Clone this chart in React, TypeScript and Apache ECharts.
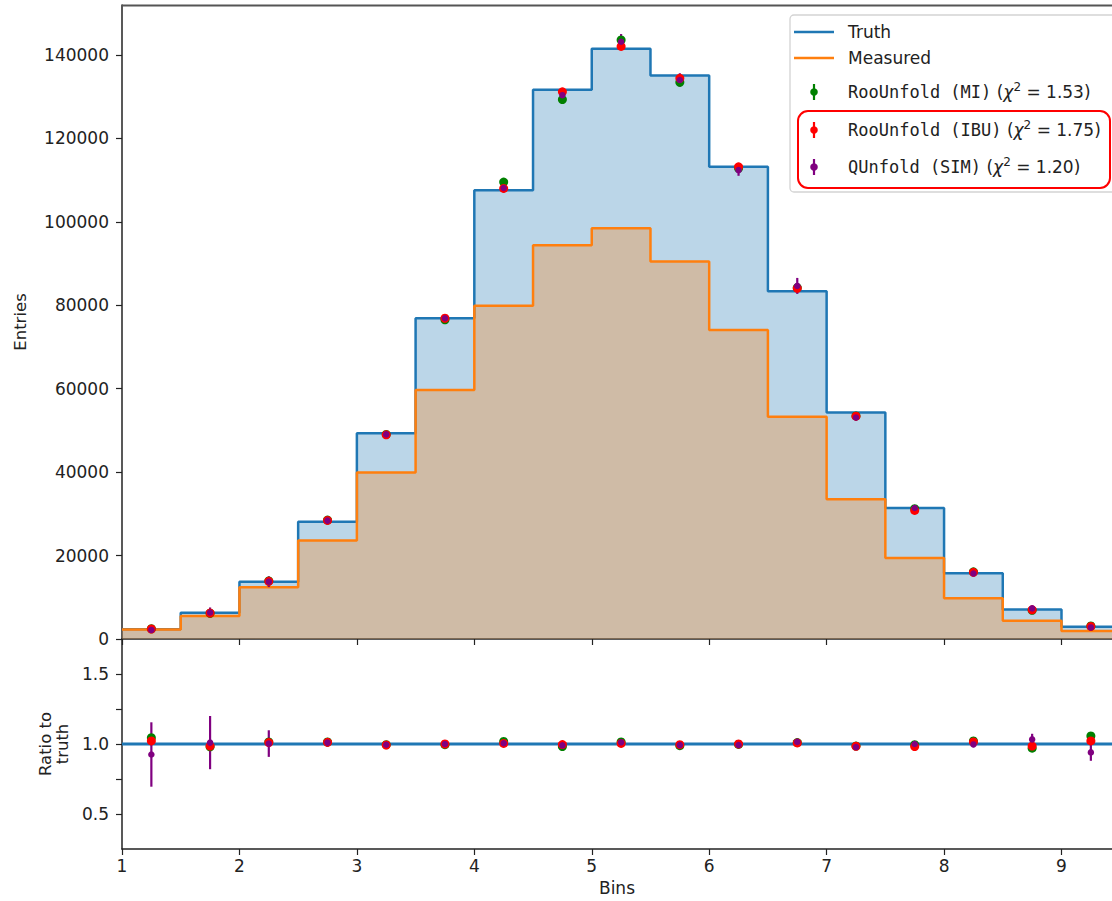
import React, { useEffect, useRef } from "react";
import * as echarts from "echarts";

// ---------- data ----------
const binEdges = [1, 1.5, 2, 2.5, 3, 3.5, 4, 4.5, 5, 5.5, 6, 6.5, 7, 7.5, 8, 8.5, 9, 9.5];
const binCenters = [1.25, 1.75, 2.25, 2.75, 3.25, 3.75, 4.25, 4.75, 5.25, 5.75, 6.25, 6.75, 7.25, 7.75, 8.25, 8.75, 9.25];

const truthCounts = [2350, 6300, 13700, 28100, 49300, 76900, 107600, 131700, 141500, 135100, 113200, 83400, 54300, 31400, 15750, 7100, 2950];
const measuredCounts = [2250, 5500, 12400, 23600, 39900, 59700, 79900, 94400, 98500, 90500, 74100, 53300, 33500, 19400, 9750, 4400, 1900];

// ratio to truth of each unfolding, and its error (ratio units)
const ratioMI = [1.045, 0.98, 1.015, 1.015, 0.995, 0.995, 1.018, 0.982, 1.015, 0.988, 0.997, 1.01, 0.985, 0.995, 1.022, 0.97, 1.058];
const errMI = [0.02, 0.015, 0.01, 0.008, 0.006, 0.005, 0.005, 0.005, 0.005, 0.005, 0.005, 0.005, 0.006, 0.008, 0.01, 0.015, 0.02];
const ratioIBU = [1.022, 0.985, 1.01, 1.012, 0.993, 1.0, 1.004, 0.996, 1.004, 0.995, 1.0, 1.008, 0.984, 0.982, 1.015, 0.985, 1.022];
const errIBU = [0.02, 0.015, 0.01, 0.008, 0.006, 0.005, 0.005, 0.005, 0.005, 0.005, 0.005, 0.005, 0.006, 0.008, 0.01, 0.015, 0.02];
const ratioSIM = [0.925, 1.01, 1.003, 1.01, 0.995, 1.0, 1.005, 0.99, 1.012, 0.992, 0.993, 1.015, 0.978, 1.0, 0.997, 1.033, 0.94];
const errSIM = [0.23, 0.19, 0.095, 0.03, 0.015, 0.012, 0.01, 0.01, 0.013, 0.012, 0.012, 0.023, 0.015, 0.015, 0.02, 0.04, 0.06];

const entriesTicks = [0, 20000, 40000, 60000, 80000, 100000, 120000, 140000];
const ratioLabelTicks = [0.5, 1.0, 1.5];
const ratioTickValues = [0.5, 0.75, 1.0, 1.25, 1.5];
const binTicks = [1, 2, 3, 4, 5, 6, 7, 8, 9];

const chiMI = "1.53";
const chiIBU = "1.75";
const chiSIM = "1.20";

// ---------- styling ----------
const C_TRUTH = "#1f77b4";
const C_MEAS = "#ff7f0e";
const C_MI = "#008000";
const C_IBU = "#ff0000";
const C_SIM = "#800080";
const FONT = "DejaVu Sans";
const MONO = "DejaVu Sans Mono";
const TXT = "#222";

function stepData(counts: number[]) {
  return binEdges.map((e, i) => [e, counts[Math.min(i, counts.length - 1)]]);
}

function errBarSeries(
  name: string,
  grid: number,
  values: number[],
  errs: number[],
  color: string
) {
  return {
    type: "custom",
    name,
    xAxisIndex: grid,
    yAxisIndex: grid,
    clip: true,
    encode: { x: 0, y: [1, 2] },
    data: binCenters.map((c, i) => [c, values[i] - errs[i], values[i] + errs[i]]),
    renderItem: (params: any, api: any) => {
      const p1 = api.coord([api.value(0), api.value(1)]);
      const p2 = api.coord([api.value(0), api.value(2)]);
      return {
        type: "line",
        shape: { x1: p1[0], y1: p1[1], x2: p2[0], y2: p2[1] },
        style: { stroke: color, lineWidth: 2.2 },
      };
    },
    z: 3,
  };
}

function pointSeries(name: string, grid: number, values: number[], color: string, size: number, z: number) {
  return {
    type: "scatter",
    name,
    xAxisIndex: grid,
    yAxisIndex: grid,
    symbol: "circle",
    symbolSize: size,
    itemStyle: { color, opacity: 1 },
    data: binCenters.map((c, i) => [c, values[i]]),
    z,
  };
}

function buildOption() {
  const topMI = truthCounts.map((t, i) => t * ratioMI[i]);
  const topIBU = truthCounts.map((t, i) => t * ratioIBU[i]);
  const topSIM = truthCounts.map((t, i) => t * ratioSIM[i]);
  const topErrMI = truthCounts.map((t, i) => t * errMI[i]);
  const topErrIBU = truthCounts.map((t, i) => t * errIBU[i]);
  const topErrSIM = truthCounts.map((t, i) => t * errSIM[i]);
  const ratioTruth = truthCounts.map((t) => t / t);

  const axisLine = { show: true, lineStyle: { color: "#222", width: 1.5 } };
  const tickStyle = { color: "#222", width: 1.2 };
  const labelStyle = { fontSize: 17, fontFamily: FONT, color: TXT };

  const legendRows = [
    { y: 32, kind: "line", color: C_TRUTH, text: "Truth" },
    { y: 58, kind: "line", color: C_MEAS, text: "Measured" },
    { y: 92, kind: "pt", color: C_MI, method: "RooUnfold (MI)", chi: chiMI },
    { y: 130, kind: "pt", color: C_IBU, method: "RooUnfold (IBU)", chi: chiIBU },
    { y: 167, kind: "pt", color: C_SIM, method: "QUnfold (SIM)", chi: chiSIM },
  ];

  const graphic: any[] = [
    {
      type: "line",
      shape: { x1: 122, y1: 5.5, x2: 1112, y2: 5.5 },
      style: { stroke: "#555", lineWidth: 2 },
      z: 50,
    },
    {
      type: "rect",
      shape: { x: 790, y: 15, width: 330, height: 177, r: 4 },
      style: { fill: "rgba(255,255,255,0.85)", stroke: "#d3d3d3", lineWidth: 1.3 },
      z: 100,
    },
  ];
  legendRows.forEach((r: any) => {
    if (r.kind === "line") {
      graphic.push({
        type: "line",
        shape: { x1: 794, y1: r.y, x2: 834, y2: r.y },
        style: { stroke: r.color, lineWidth: 2.5 },
        z: 101,
      });
      graphic.push({
        type: "text",
        x: 848,
        y: r.y,
        style: { text: r.text, fontSize: 17, fontFamily: FONT, fill: TXT, verticalAlign: "middle" },
        z: 101,
      });
    } else {
      graphic.push({
        type: "line",
        shape: { x1: 814, y1: r.y - 8, x2: 814, y2: r.y + 8 },
        style: { stroke: r.color, lineWidth: 2.2 },
        z: 101,
      });
      graphic.push({
        type: "circle",
        shape: { cx: 814, cy: r.y, r: 3.8 },
        style: { fill: r.color },
        z: 101,
      });
      graphic.push({
        type: "text",
        x: 848,
        y: r.y,
        style: {
          text: `{m|${r.method}} {n|(}{i|χ}{s|2}{n| = ${r.chi})}`,
          fontSize: 17,
          fontFamily: FONT,
          fill: TXT,
          verticalAlign: "middle",
          rich: {
            m: { fontFamily: MONO, fontSize: 17, fill: TXT, lineHeight: 22, verticalAlign: "middle" },
            n: { fontFamily: FONT, fontSize: 17, fill: TXT, lineHeight: 22, verticalAlign: "middle" },
            i: { fontFamily: FONT, fontSize: 17, fontStyle: "italic", fill: TXT, lineHeight: 22, verticalAlign: "middle" },
            s: { fontFamily: FONT, fontSize: 12, fill: TXT, lineHeight: 22, verticalAlign: "top" },
          },
        },
        z: 101,
      });
    }
  });
  graphic.push({
    type: "rect",
    shape: { x: 798, y: 111, width: 312, height: 77, r: 10 },
    style: { fill: "none", stroke: "#ff0000", lineWidth: 2 },
    z: 102,
  });

  return {
    animation: false,
    backgroundColor: "#ffffff",
    textStyle: { fontFamily: FONT },
    grid: [
      { left: 122, top: 5, right: 0, height: 634 },
      { left: 122, top: 639, right: 0, height: 210 },
    ],
    xAxis: [
      {
        gridIndex: 0,
        type: "value",
        min: 1,
        max: 9.43,
        axisLine,
        axisTick: { show: true, length: 6, inside: false, customValues: binTicks, lineStyle: tickStyle },
        axisLabel: { show: false },
        splitLine: { show: false },
      },
      {
        gridIndex: 1,
        type: "value",
        min: 1,
        max: 9.43,
        axisLine,
        axisTick: { show: true, length: 6, inside: false, customValues: binTicks, lineStyle: tickStyle },
        axisLabel: { ...labelStyle, customValues: binTicks, margin: 8, formatter: (v: number) => String(v) },
        splitLine: { show: false },
        name: "Bins",
        nameLocation: "middle",
        nameGap: 30,
        nameTextStyle: { ...labelStyle },
      },
    ],
    yAxis: [
      {
        gridIndex: 0,
        type: "value",
        min: 0,
        max: 152000,
        axisLine,
        axisTick: { show: true, length: 6, inside: false, customValues: entriesTicks, lineStyle: tickStyle },
        axisLabel: {
          ...labelStyle,
          customValues: entriesTicks,
          margin: 13,
          formatter: (v: number) => String(Math.round(v)),
        },
        splitLine: { show: false },
        name: "Entries",
        nameLocation: "middle",
        nameGap: 93,
        nameTextStyle: { ...labelStyle, fontSize: 16.5 },
      },
      {
        gridIndex: 1,
        type: "value",
        min: 0.25,
        max: 1.75,
        axisLine,
        axisTick: { show: true, length: 6, inside: false, customValues: ratioTickValues, lineStyle: tickStyle },
        axisLabel: {
          ...labelStyle,
          customValues: ratioLabelTicks,
          margin: 13,
          formatter: (v: number) => v.toFixed(1),
        },
        splitLine: { show: false },
        name: "Ratio to\ntruth",
        nameLocation: "middle",
        nameGap: 40,
        nameTextStyle: { ...labelStyle, fontSize: 16.5, lineHeight: 17 },
      },
    ],
    series: [
      {
        type: "line",
        name: "Truth",
        xAxisIndex: 0,
        yAxisIndex: 0,
        step: "end",
        symbol: "none",
        data: stepData(truthCounts),
        lineStyle: { color: C_TRUTH, width: 2.5 },
        itemStyle: { color: C_TRUTH },
        areaStyle: { color: "rgba(31,119,180,0.3)", opacity: 1 },
        z: 1,
      },
      {
        type: "line",
        name: "Measured",
        xAxisIndex: 0,
        yAxisIndex: 0,
        step: "end",
        symbol: "none",
        data: stepData(measuredCounts),
        lineStyle: { color: C_MEAS, width: 2.5 },
        itemStyle: { color: C_MEAS },
        areaStyle: { color: "rgba(255,127,14,0.3)", opacity: 1 },
        z: 2,
      },
      errBarSeries("MI err", 0, topMI, topErrMI, C_MI),
      errBarSeries("IBU err", 0, topIBU, topErrIBU, C_IBU),
      errBarSeries("SIM err", 0, topSIM, topErrSIM, C_SIM),
      pointSeries("RooUnfold (MI)", 0, topMI, C_MI, 9, 4),
      pointSeries("RooUnfold (IBU)", 0, topIBU, C_IBU, 9, 5),
      pointSeries("QUnfold (SIM)", 0, topSIM, C_SIM, 6.5, 6),
      {
        type: "line",
        name: "Truth ratio",
        xAxisIndex: 1,
        yAxisIndex: 1,
        step: "end",
        symbol: "none",
        data: stepData(ratioTruth),
        lineStyle: { color: C_TRUTH, width: 2.8 },
        itemStyle: { color: C_TRUTH },
        z: 1,
      },
      errBarSeries("MI ratio err", 1, ratioMI, errMI, C_MI),
      errBarSeries("IBU ratio err", 1, ratioIBU, errIBU, C_IBU),
      errBarSeries("SIM ratio err", 1, ratioSIM, errSIM, C_SIM),
      pointSeries("MI ratio", 1, ratioMI, C_MI, 9, 4),
      pointSeries("IBU ratio", 1, ratioIBU, C_IBU, 9, 5),
      pointSeries("SIM ratio", 1, ratioSIM, C_SIM, 6.5, 6),
    ],
    graphic,
  };
}

export default function App() {
  const ref = useRef<HTMLDivElement | null>(null);
  useEffect(() => {
    if (!ref.current) return;
    const chart = echarts.init(ref.current, undefined, { renderer: "svg" });
    chart.setOption(buildOption() as any);
    return () => chart.dispose();
  }, []);
  return (
    <div
      ref={ref}
      style={{ position: "fixed", left: 0, top: 0, width: 1112, height: 901, background: "#fff" }}
    />
  );
}
